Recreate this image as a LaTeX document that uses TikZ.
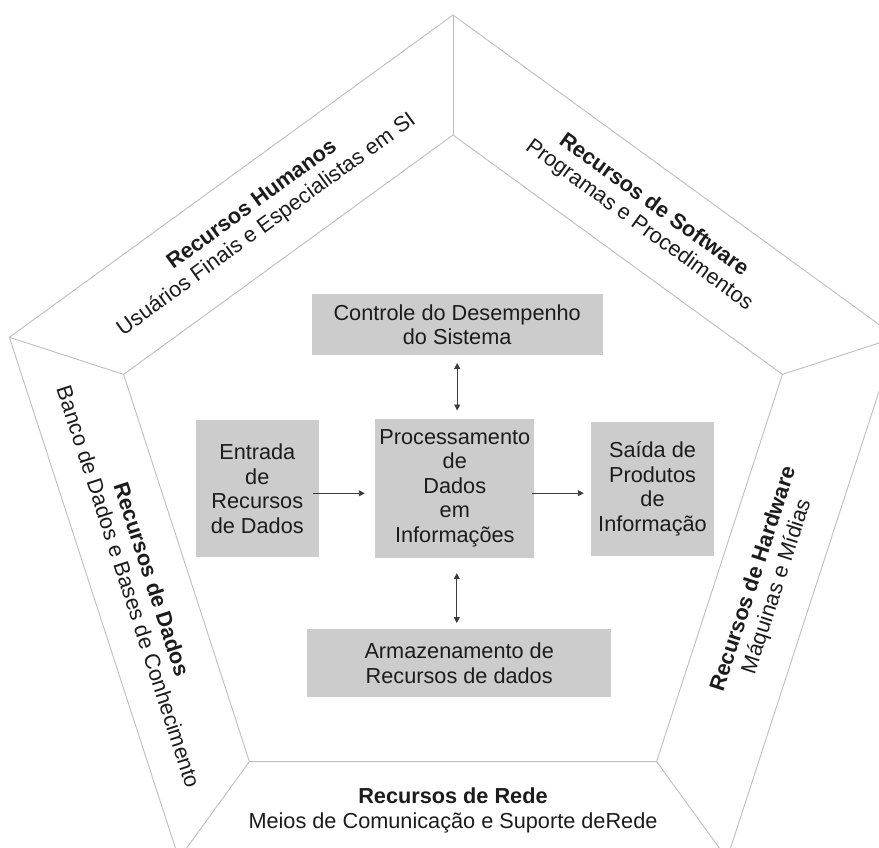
\documentclass[tikz,border=0pt]{standalone}
\usepackage{fontspec}
\setmainfont{Liberation Sans}
\usetikzlibrary{arrows.meta}
\definecolor{boxfill}{RGB}{204,204,204}
\definecolor{rimline}{RGB}{190,190,190}
\definecolor{ink}{RGB}{28,28,28}
\definecolor{flow}{RGB}{60,60,60}

\begin{document}
\begin{tikzpicture}[x=1pt,y=-1pt,
  every node/.style={text=ink, font=\fontsize{21.7}{24.5}\selectfont},
  rim/.style={draw=rimline, line width=0.9pt, line join=miter},
  block/.style={fill=boxfill, inner sep=0pt, align=center},
  band/.style={align=center, inner sep=0pt},
  tip/.tip={Triangle[length=6pt,width=6pt]},
  oneway/.style={draw=flow, line width=0.9pt, -tip},
  twoway/.style={draw=flow, line width=0.9pt, tip-tip}
]
\useasboundingbox (0,0) rectangle (879,848);
\fill[white] (0,0) rectangle (879,848);
\clip (0,0) rectangle (879,848);

% inner pentagon corners
\coordinate (it)  at (453,135.0);
\coordinate (iul) at (123.6,374.4);
\coordinate (ill) at (249.4,761.6);
\coordinate (ilr) at (656.6,761.6);
\coordinate (iur) at (782.4,374.4);
% outer pentagon corners
\coordinate (ot)  at (453,15.0);
\coordinate (oul) at (9.4,337.3);
\coordinate (oll) at (178.9,858.7);
\coordinate (olr) at (727.1,858.7);
\coordinate (our) at (896.6,337.3);

% the five bands
\draw[rim] (ot) -- (our) -- (olr) -- (oll) -- (oul) -- cycle;
\draw[rim] (it) -- (iur) -- (ilr) -- (ill) -- (iul) -- cycle;
\draw[rim] (it) -- (ot);
\draw[rim] (iur) -- (our);
\draw[rim] (ilr) -- (olr);
\draw[rim] (ill) -- (oll);
\draw[rim] (iul) -- (oul);

% band labels, centred in each band
\coordinate (mhum) at (259.7,215.4);
\coordinate (msw)  at (646.3,215.4);
\coordinate (mdat) at (140.3,583.0);
\coordinate (mhw)  at (765.7,583.0);
\coordinate (mnet) at (453,810.2);

\node[band, rotate=36] (hum) at (mhum) {\textbf{Recursos Humanos}\\Usuários Finais e Especialistas em SI};
\node[band, rotate=-36] (sw) at (msw) {\textbf{Recursos de Software}\\Programas e Procedimentos};
\node[band, rotate=-72] (dat) at (mdat) {\textbf{Recursos de Dados}\\Banco de Dados e Bases de Conhecimento};
\node[band, rotate=72] (hw) at (mhw) {\textbf{Recursos de Hardware}\\Máquinas e Mídias};
\node[band] (net) at (mnet) {\textbf{Recursos de Rede}\\Meios de Comunicação e Suporte deRede};

% activity blocks
\node[block, minimum width=291pt, minimum height=60.7pt] (ctrl) at (457.2,324.7) {Controle do Desempenho\\do Sistema};
\node[block, minimum width=122.7pt, minimum height=137.3pt] (entr) at (257.3,488.7) {Entrada\\de\\Recursos\\de Dados};
\node[block, minimum width=159pt, minimum height=139pt] (proc) at (454.8,488.2) {Processamento\\de\\Dados\\em\\Informações};
\node[block, minimum width=123.6pt, minimum height=134pt] (said) at (652.5,488.7) {Saída de\\Produtos\\de\\Informação};
\node[block, minimum width=303.7pt, minimum height=67.4pt] (arm) at (459.2,663) {Armazenamento de\\Recursos de dados};

% flows
\draw[twoway, shorten <=7.7pt, shorten >=8pt] (ctrl.south) -- (ctrl.south |- proc.north);
\draw[twoway, shorten <=15.3pt, shorten >=6pt] ([xshift=2pt]proc.south) -- ([xshift=2pt]proc.south |- arm.north);
\draw[oneway, shorten <=-5.7pt, shorten >=10.3pt] ([yshift=-4.6pt]entr.east) -- ([yshift=-4.6pt]entr.east -| proc.west);
\draw[oneway, shorten <=-2.3pt, shorten >=6.7pt] ([yshift=-5pt]proc.east) -- ([yshift=-5pt]proc.east -| said.west);
\end{tikzpicture}
\end{document}
